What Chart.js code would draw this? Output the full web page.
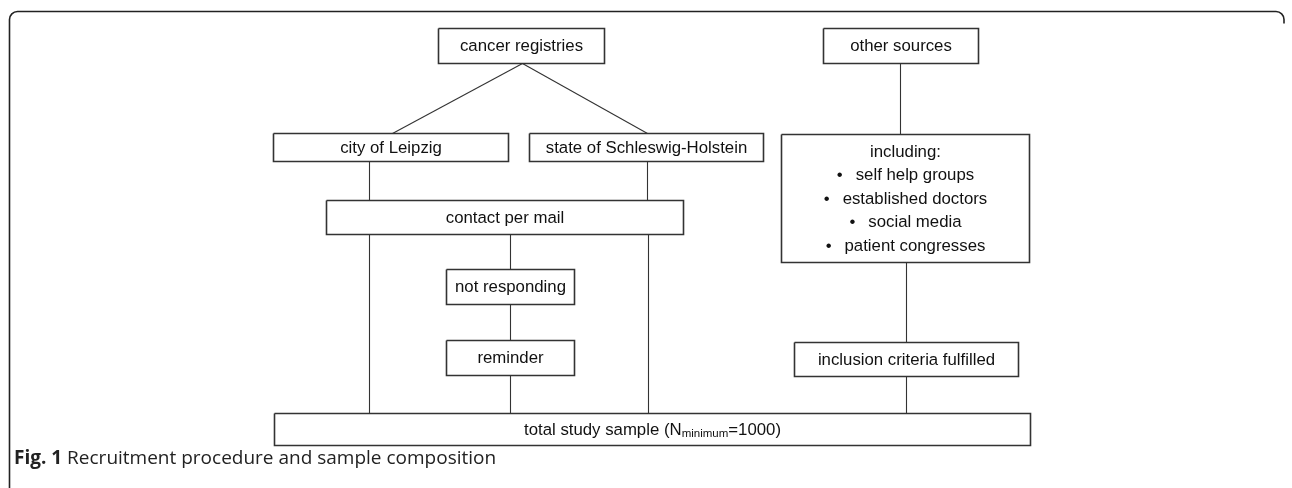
<!DOCTYPE html>
<html>
<head>
<meta charset="utf-8">
<script src="https://cdn.jsdelivr.net/npm/chart.js@4.4.1/dist/chart.umd.min.js"></script>
<style>
  html, body { margin: 0; padding: 0; background: #fff; }
  #wrap { position: relative; width: 1292px; height: 488px; overflow: hidden; }
  #caption {
    position: absolute; left: 14px; top: 445px;
    font-family: "Open Sans", sans-serif; font-size: 19px; line-height: 24px;
    color: #222; white-space: nowrap;
  }
  #caption b { font-weight: 700; }
</style>
</head>
<body>
<div id="wrap">
  <canvas id="flow" width="1292" height="488"></canvas>
  <div id="caption"><b>Fig. 1</b> Recruitment procedure and sample composition</div>
</div>
<script>
// boxes of the flow diagram (diagram units = pixels of the figure)
const nodeLabels = ['cancer registries', 'other sources', 'city of Leipzig', 'state of Schleswig-Holstein',
                    'including:', 'contact per mail', 'not responding', 'reminder',
                    'inclusion criteria fulfilled', 'total study sample'];
const nodeLeft   = [438, 823, 273, 529, 781, 326, 446, 446, 794, 274];
const nodeRight  = [604, 978, 508, 763, 1029, 683, 574, 574, 1018, 1030];
const nodeTop    = [28, 28, 133, 133, 134, 200, 269, 340, 342, 413];
const nodeBottom = [63, 63, 161, 161, 262, 234, 304, 375, 376, 445];

const includingItems = ['self help groups', 'established doctors', 'social media', 'patient congresses'];
const totalSub = 'minimum';
const totalTail = '=1000)';

// connectors: from bottom of one box to top of another
const linkFrom = [0, 0, 1, 2, 3, 5, 5, 5, 6, 7, 4, 8];
const linkTo   = [2, 3, 4, 5, 5, 9, 9, 6, 7, 9, 8, 9];
const linkX1   = [522, 522, 900, 369, 647, 369, 648, 510, 510, 510, 906, 906];
const linkX2   = [392, 647, 900, 369, 647, 369, 648, 510, 510, 510, 906, 906];

const lineColor = '#333';
const textFont = '16.8px "Liberation Sans", Arial, sans-serif';
const subFont = '11.5px "Liberation Sans", Arial, sans-serif';

const datasets = [];
linkFrom.forEach((f, i) => {
    datasets.push({
        type: 'line',
        data: [{x: linkX1[i], y: nodeBottom[f]}, {x: linkX2[i], y: nodeTop[linkTo[i]]}],
        borderColor: lineColor, borderWidth: 1.1, pointRadius: 0, fill: false, showLine: true
    });
});
nodeLabels.forEach((n, i) => {
    const l = nodeLeft[i], r = nodeRight[i], t = nodeTop[i], b = nodeBottom[i];
    datasets.push({
        type: 'line',
        data: [{x: l, y: t}, {x: r, y: t}, {x: r, y: b}, {x: l, y: b}, {x: l, y: t}],
        borderColor: lineColor, borderWidth: 1.6, borderJoinStyle: 'miter',
        pointRadius: 0, fill: false, showLine: true
    });
});

const framePlugin = {
    id: 'frame',
    beforeDraw(chart) {
        const ctx = chart.ctx;
        const L = 9.5, T = 11.5, R = 1284, rad = 8;
        ctx.save();
        ctx.strokeStyle = '#222';
        ctx.lineWidth = 1.6;
        ctx.beginPath();
        ctx.moveTo(L, 488);
        ctx.lineTo(L, T + rad);
        ctx.arcTo(L, T, L + rad, T, rad);
        ctx.lineTo(R - rad, T);
        ctx.arcTo(R, T, R, T + rad, rad);
        ctx.lineTo(R, T + rad + 4);
        ctx.stroke();
        ctx.restore();
    }
};

const labelPlugin = {
    id: 'labels',
    afterDatasetsDraw(chart) {
        const ctx = chart.ctx;
        const xs = chart.scales.x, ys = chart.scales.y;
        ctx.save();
        ctx.fillStyle = '#111';
        ctx.font = textFont;
        ctx.textBaseline = 'middle';
        nodeLabels.forEach((label, i) => {
            const cx = xs.getPixelForValue((nodeLeft[i] + nodeRight[i]) / 2);
            const cy = ys.getPixelForValue((nodeTop[i] + nodeBottom[i]) / 2) + 0.5;
            if (i === 4) {
                const lines = [label].concat(includingItems);
                const lh = 23.5;
                const y0 = cy - lh * (lines.length - 1) / 2;
                lines.forEach((txt, k) => {
                    const y = y0 + k * lh;
                    if (k === 0) {
                        ctx.textAlign = 'center';
                        ctx.fillText(txt, cx, y);
                    } else {
                        const bullet = '\u2022';
                        const gap = 13;
                        const bw = ctx.measureText(bullet).width;
                        const tw = ctx.measureText(txt).width;
                        const x0 = cx - (bw + gap + tw) / 2;
                        ctx.textAlign = 'left';
                        ctx.fillText(bullet, x0, y);
                        ctx.fillText(txt, x0 + bw + gap, y);
                    }
                });
            } else if (i === 9) {
                const head = label + ' (N';
                const hw = ctx.measureText(head).width;
                const tw = ctx.measureText(totalTail).width;
                ctx.font = subFont;
                const sw = ctx.measureText(totalSub).width;
                let x = cx - (hw + sw + tw) / 2;
                ctx.textAlign = 'left';
                ctx.font = textFont;
                ctx.fillText(head, x, cy);
                x += hw;
                ctx.font = subFont;
                ctx.fillText(totalSub, x, cy + 4);
                x += sw;
                ctx.font = textFont;
                ctx.fillText(totalTail, x, cy);
            } else {
                ctx.textAlign = 'center';
                ctx.fillText(label, cx, cy);
            }
        });
        ctx.restore();
    }
};

new Chart(document.getElementById('flow'), {
    type: 'scatter',
    data: { datasets: datasets },
    options: {
        responsive: false,
        animation: false,
        devicePixelRatio: 1,
        layout: { padding: 0 },
        plugins: { legend: { display: false }, tooltip: { enabled: false } },
        scales: {
            x: { type: 'linear', min: -0.5, max: 1291.5, display: false },
            y: { type: 'linear', min: -0.5, max: 487.5, reverse: true, display: false }
        }
    },
    plugins: [framePlugin, labelPlugin]
});
</script>
</body>
</html>
